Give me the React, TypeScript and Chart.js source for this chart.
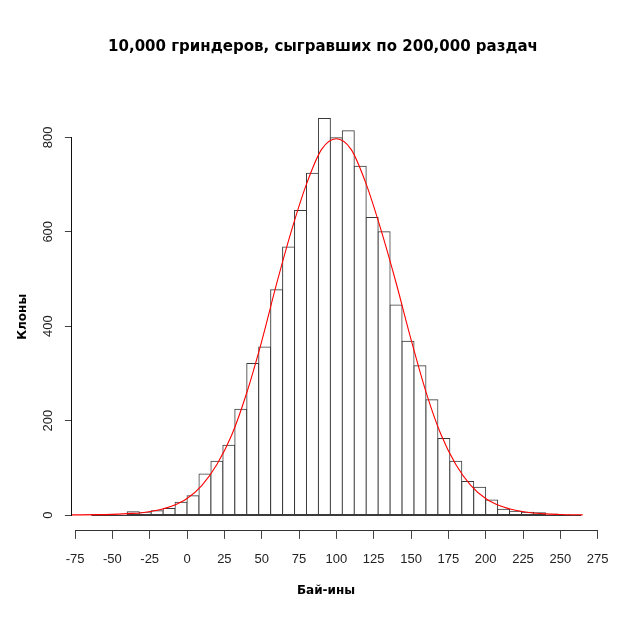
import React, { useEffect, useRef } from 'react';
import { Chart, registerables } from 'chart.js';

Chart.register(...registerables);

const titleText = '10,000 гриндеров, сыгравших по 200,000 раздач';
const xTitleText = 'Бай-ины';
const yTitleText = 'Клоны';

// Histogram bins (lower edges) and counts
const binWidth = 8;
const binLower = [
  -64, -56, -48, -40, -32, -24, -16, -8, 0, 8, 16, 24, 32, 40, 48, 56, 64, 72, 80, 88,
  96, 104, 112, 120, 128, 136, 144, 152, 160, 168, 176, 184, 192, 200, 208, 216, 224,
  232, 240, 248, 256,
];
const counts = [
  1, 1, 1, 7, 5, 9, 14, 27, 41, 87, 114, 148, 224, 321, 356, 477, 568, 645, 724, 840,
  799, 814, 739, 630, 600, 445, 368, 316, 244, 162, 114, 71, 59, 32, 12, 8, 6,
  5, 2, 1, 0,
];

// Red fitted curve
const curveX = [
  -77, -60, -50, -40, -30, -20, -10, 0, 10, 20, 30, 40, 50, 60, 70, 80, 90, 100, 110,
  120, 130, 140, 150, 160, 170, 180, 190, 200, 210, 220, 230, 240, 250, 260, 265,
];
const curveY = [
  0.3, 0.8, 1.5, 3, 5, 10, 19, 35, 63, 107, 170, 259, 368, 490, 603, 701, 774, 797, 774,
  701, 603, 492, 372, 261, 171, 107, 63, 35, 19, 10, 5, 2.5, 1.2, 0.6, 0.4,
];

// Axis settings
const xMin = -77.1;
const xMax = 277.1;
const xStep = 25;
const yMin = -33.6;
const yMax = 873.6;
const yStep = 200;

const BAR_DATASET_INDEX = 1;

const align = (p: number) => Math.round(p - 0.5) + 0.5;

const decorPlugin = {
  id: 'decor',
  afterDatasetDraw(chart: any, args: any) {
    if (args.index !== BAR_DATASET_INDEX) return;
    // histogram baseline across all bins (including empty ones), under the red curve
    const ctx = chart.ctx as CanvasRenderingContext2D;
    const xs = chart.scales.x;
    const ys = chart.scales.y;
    const x0 = xs.getPixelForValue(binLower[0]);
    const x1 = xs.getPixelForValue(binLower[binLower.length - 1] + binWidth);
    const y0 = align(ys.getPixelForValue(0));
    ctx.save();
    ctx.strokeStyle = '#3a3a3a';
    ctx.lineWidth = 1;
    ctx.beginPath();
    ctx.moveTo(x0, y0);
    ctx.lineTo(x1, y0);
    ctx.stroke();
    ctx.restore();
  },
  afterDraw(chart: any) {
    const ctx = chart.ctx as CanvasRenderingContext2D;
    const xs = chart.scales.x;
    const ys = chart.scales.y;
    ctx.save();
    ctx.strokeStyle = '#333';
    ctx.lineWidth = 1;
    // x axis line (from first to last tick)
    const xt = xs.ticks;
    const xa = align(xs.getPixelForValue(xt[0].value)) - 0.5;
    const xb = align(xs.getPixelForValue(xt[xt.length - 1].value)) + 0.5;
    const yLine = align(xs.top);
    ctx.beginPath();
    ctx.moveTo(xa, yLine);
    ctx.lineTo(xb, yLine);
    ctx.stroke();
    // y axis line
    const yt = ys.ticks;
    const ya = align(ys.getPixelForValue(yt[0].value)) + 0.5;
    const yb = align(ys.getPixelForValue(yt[yt.length - 1].value)) - 0.5;
    const xLine = align(ys.right);
    ctx.strokeStyle = '#111';
    ctx.beginPath();
    ctx.moveTo(xLine, ya);
    ctx.lineTo(xLine, yb);
    ctx.stroke();
    // main title and x-axis title
    ctx.fillStyle = '#000';
    ctx.textAlign = 'center';
    ctx.textBaseline = 'middle';
    ctx.font = 'bold 15px "DejaVu Sans"';
    ctx.fillText(titleText, 323, 47);
    ctx.font = 'bold 12px "DejaVu Sans"';
    ctx.fillText(xTitleText, 326, 591);
    ctx.restore();
  },
};

export default function App() {
  const canvasRef = useRef<HTMLCanvasElement | null>(null);

  useEffect(() => {
    if (!canvasRef.current) return;
    const barData = binLower.map((lo, i) => ({ x: lo + binWidth / 2, y: counts[i] }));
    const lineData = curveX.map((x, i) => ({ x, y: curveY[i] }));
    const tickFont = { family: '"Liberation Sans", Arial, sans-serif', size: 13 };

    const chart = new Chart(canvasRef.current, {
      type: 'bar',
      data: {
        datasets: [
          {
            type: 'line',
            data: lineData,
            borderColor: '#ff0000',
            borderWidth: 1.1,
            pointRadius: 0,
            fill: false,
            tension: 0.4,
            cubicInterpolationMode: 'monotone',
            order: 0,
          } as any,
          {
            type: 'bar',
            data: barData,
            backgroundColor: '#ffffff',
            borderColor: '#3a3a3a',
            borderWidth: 1,
            borderSkipped: false,
            inflateAmount: 0.5,
            barPercentage: 1,
            categoryPercentage: 1,
            grouped: false,
            order: 1,
          } as any,
        ],
      },
      options: {
        responsive: false,
        animation: false,
        devicePixelRatio: 1,
        events: [],
        layout: { padding: { left: 0, right: 19.2, top: 102.6, bottom: 48.1 } },
        plugins: {
          legend: { display: false },
          tooltip: { enabled: false },
          title: { display: false },
        },
        scales: {
          x: {
            type: 'linear',
            min: xMin,
            max: xMax,
            offset: false,
            grid: {
              display: true,
              drawOnChartArea: false,
              drawTicks: true,
              tickLength: 8,
              color: '#444',
              offset: false,
            },
            border: { display: false },
            ticks: {
              stepSize: xStep,
              includeBounds: false,
              autoSkip: false,
              maxRotation: 0,
              minRotation: 0,
              padding: 13,
              color: '#222',
              font: tickFont,
            },
            afterFit(scale: any) {
              scale.height = 40;
              scale.paddingLeft = 0;
              scale.paddingRight = 0;
            },
          } as any,
          y: {
            type: 'linear',
            min: yMin,
            max: yMax,
            grid: {
              display: true,
              drawOnChartArea: false,
              drawTicks: true,
              tickLength: 7,
              color: '#444',
            },
            border: { display: false },
            ticks: {
              stepSize: yStep,
              includeBounds: false,
              minRotation: 90,
              maxRotation: 90,
              crossAlign: 'center',
              padding: 6,
              color: '#222',
              font: tickFont,
            },
            title: {
              display: true,
              text: yTitleText,
              color: '#000',
              font: { family: '"DejaVu Sans"', size: 12, weight: 'bold' },
              padding: { top: 16, bottom: 0 },
            },
            afterFit(scale: any) {
              scale.width = 71.9;
              scale.paddingTop = 0;
              scale.paddingBottom = 0;
            },
          } as any,
        },
      },
      plugins: [decorPlugin],
    });
    return () => chart.destroy();
  }, []);

  return (
    <div style={{ position: 'fixed', left: 0, top: 0, width: 620, height: 619, background: '#fff' }}>
      <canvas ref={canvasRef} width={620} height={619} style={{ display: 'block' }} />
    </div>
  );
}
